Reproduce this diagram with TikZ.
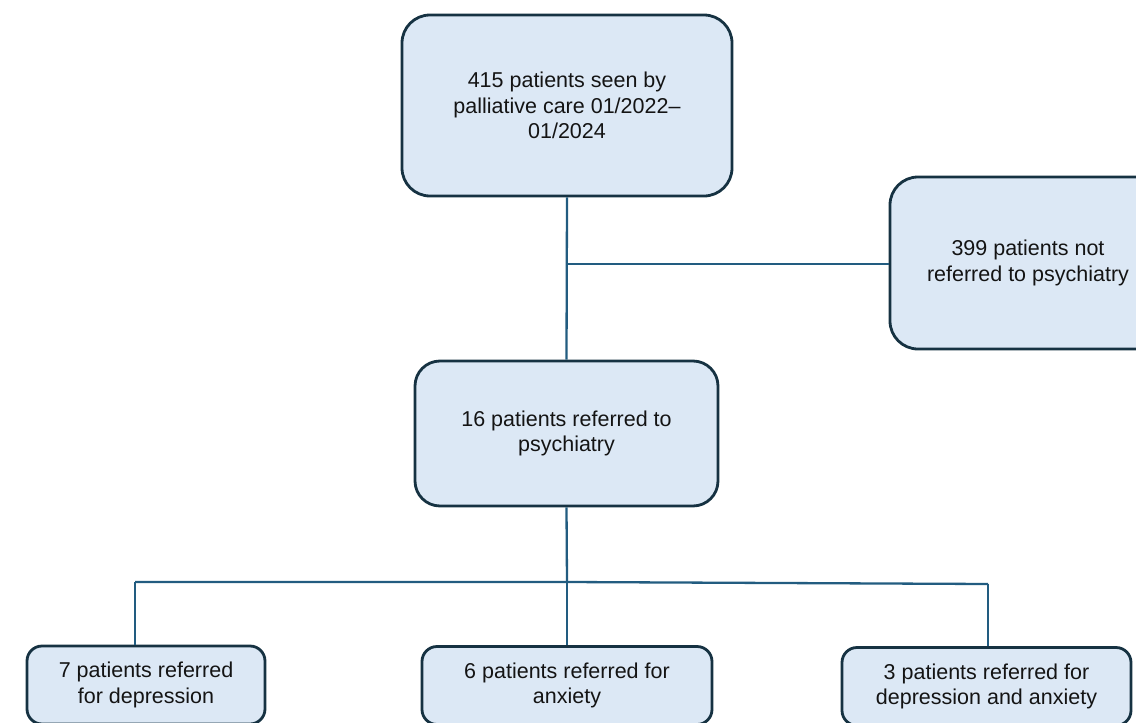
\documentclass[tikz,border=0pt]{standalone}
\usepackage{fontspec}
\setmainfont{Liberation Sans}
\definecolor{boxfill}{RGB}{220,232,245}
\definecolor{boxline}{RGB}{22,50,66}
\definecolor{conn}{RGB}{34,92,128}
\definecolor{txt}{RGB}{20,20,20}
\begin{document}
\begin{tikzpicture}[x=1pt,y=-1pt,
  flowbox/.style={draw=boxline, line width=2.8pt, fill=boxfill, align=center,
    text=txt, font=\fontsize{21.5}{25.5}\selectfont, inner sep=0pt},
  link/.style={draw=conn, line width=2.3pt}]
\useasboundingbox (0,0) rectangle (1136,723);
\clip (0,0) rectangle (1136,723);
\node[flowbox, rounded corners=28pt, minimum width=330pt, minimum height=181pt] (top) at (567,105.5)
  {415 patients seen by\\palliative care 01/2022–\\01/2024};
\node[flowbox, rounded corners=28pt, minimum width=276pt, minimum height=172pt] (right) at (1028,263)
  {399 patients not\\referred to psychiatry};
\node[flowbox, rounded corners=25pt, minimum width=303pt, minimum height=145pt] (mid) at (566.5,433.5)
  {16 patients referred to\\psychiatry};
\node[flowbox, rounded corners=15pt, minimum width=238pt, minimum height=78pt] (bl) at (146,685)
  {7 patients referred\\for depression};
\node[flowbox, rounded corners=15pt, minimum width=290pt, minimum height=78pt] (bm) at (567,685.5)
  {6 patients referred for\\anxiety};
\node[flowbox, rounded corners=15pt, minimum width=289pt, minimum height=78pt] (br) at (986.5,686.5)
  {3 patients referred for\\depression and anxiety};
\coordinate (j1) at (567,264);
\coordinate (j2) at (567,582);
\coordinate (c1) at (135,582);
\coordinate (c3) at (988,584);
\draw[link] (top.south) -- (mid.north);
\draw[link] (j1) -- (j1 -| right.west);
\draw[link] (mid.south) -- (j2);
\draw[link] (c1) -- (j2) -- (c3);
\draw[link] (c1) -- (c1 |- bl.north);
\draw[link] (j2) -- (j2 |- bm.north);
\draw[link] (c3) -- (c3 |- br.north);
\end{tikzpicture}
\end{document}
